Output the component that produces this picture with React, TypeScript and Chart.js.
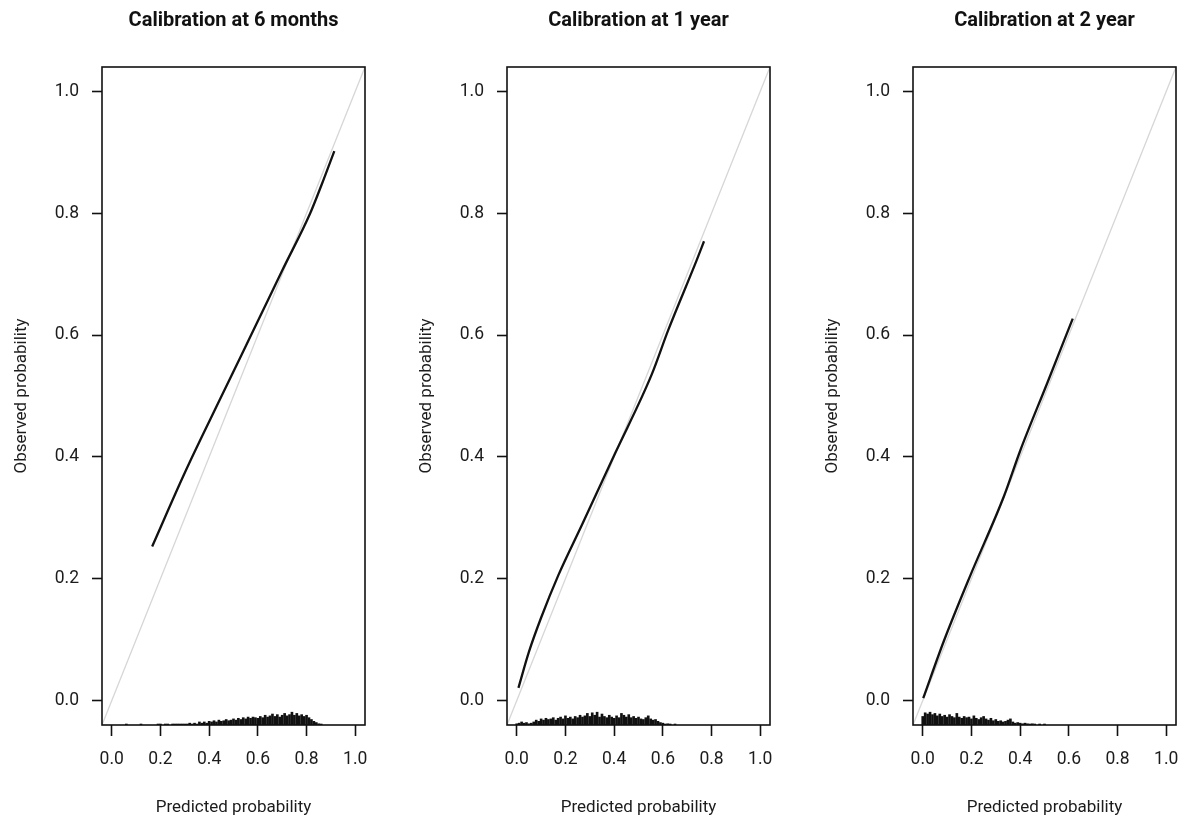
import React, { useEffect, useRef } from "react";
import { Chart, registerables } from "chart.js";

Chart.register(...registerables);
Chart.defaults.font.family = "Roboto";

// ---------- data ----------
const panelTitles = ["Calibration at 6 months", "Calibration at 1 year", "Calibration at 2 year"];
const xAxisTitle = "Predicted probability";
const yAxisTitle = "Observed probability";
const axisTicks = [0, 0.2, 0.4, 0.6, 0.8, 1.0];
const axisMin = -0.04;
const axisMax = 1.04;
const idealLine = [-0.04, 1.04];

// calibration curves
const cal6mX = [0.166, 0.3, 0.45, 0.6, 0.7, 0.815, 0.863, 0.914];
const cal6mY = [0.253, 0.374, 0.499, 0.623, 0.706, 0.8, 0.848, 0.902];
const cal1yX = [0.007, 0.05, 0.1, 0.171, 0.267, 0.404, 0.554, 0.622, 0.739, 0.769];
const cal1yY = [0.021, 0.08, 0.136, 0.206, 0.288, 0.406, 0.535, 0.608, 0.723, 0.754];
const cal2yX = [0.002, 0.086, 0.196, 0.333, 0.401, 0.511, 0.616];
const cal2yY = [0.004, 0.097, 0.206, 0.335, 0.411, 0.521, 0.627];

// distribution of predicted risks (rug heights, in y units)
const rug6mX = [0.06, 0.12, 0.19, 0.2, 0.22, 0.23, 0.25, 0.26, 0.27, 0.28, 0.29, 0.3, 0.31,
  0.32, 0.33, 0.34, 0.35, 0.36, 0.37, 0.38, 0.39, 0.4, 0.41, 0.42, 0.43, 0.44, 0.45, 0.46, 0.47,
  0.48, 0.49, 0.5, 0.51, 0.52, 0.53, 0.54, 0.55, 0.56, 0.57, 0.58, 0.59, 0.6, 0.61, 0.62, 0.63,
  0.64, 0.65, 0.66, 0.67, 0.68, 0.69, 0.7, 0.71, 0.72, 0.73, 0.74, 0.75, 0.76, 0.77, 0.78, 0.79,
  0.8, 0.81, 0.82, 0.83, 0.84, 0.85, 0.86];
const rug6mH = [0.0016, 0.0016, 0.0016, 0.0016, 0.0016, 0.0016, 0.0016, 0.0016, 0.0016, 0.0016, 0.0016, 0.0016, 0.0016,
  0.003, 0.0016, 0.003, 0.0016, 0.005, 0.003, 0.005, 0.003, 0.006, 0.005, 0.007, 0.005, 0.008, 0.006, 0.007, 0.009,
  0.007, 0.008, 0.01, 0.008, 0.011, 0.009, 0.012, 0.01, 0.013, 0.011, 0.013, 0.012, 0.011, 0.014, 0.012, 0.016,
  0.013, 0.015, 0.018, 0.014, 0.017, 0.013, 0.016, 0.019, 0.015, 0.017, 0.021, 0.016, 0.019, 0.015, 0.017, 0.014,
  0.016, 0.012, 0.009, 0.006, 0.004, 0.002, 0.0016];

const rug1yX = [0.0, 0.01, 0.02, 0.03, 0.04, 0.05, 0.06, 0.07, 0.08, 0.09, 0.1, 0.11, 0.12, 0.13, 0.14,
  0.15, 0.16, 0.17, 0.18, 0.19, 0.2, 0.21, 0.22, 0.23, 0.24, 0.25, 0.26, 0.27, 0.28, 0.29, 0.3, 0.31,
  0.32, 0.33, 0.34, 0.35, 0.36, 0.37, 0.38, 0.39, 0.4, 0.41, 0.42, 0.43, 0.44, 0.45, 0.46, 0.47, 0.48,
  0.49, 0.5, 0.51, 0.52, 0.53, 0.54, 0.55, 0.56, 0.57, 0.58, 0.59, 0.6, 0.61, 0.62, 0.63, 0.65];
const rug1yH = [0.002, 0.003, 0.005, 0.003, 0.004, 0.002, 0.003, 0.005, 0.008, 0.006, 0.01, 0.008, 0.011, 0.009, 0.01,
  0.012, 0.008, 0.011, 0.013, 0.01, 0.015, 0.011, 0.013, 0.01, 0.014, 0.012, 0.016, 0.013, 0.015, 0.019, 0.014, 0.02,
  0.016, 0.021, 0.013, 0.018, 0.014, 0.012, 0.016, 0.013, 0.011, 0.015, 0.012, 0.019, 0.016, 0.013, 0.017, 0.012, 0.014,
  0.011, 0.013, 0.01, 0.009, 0.012, 0.015, 0.01, 0.008, 0.009, 0.006, 0.004, 0.003, 0.0016, 0.002, 0.0016, 0.0016];

const rug2yX = [0.0, 0.01, 0.02, 0.03, 0.04, 0.05, 0.06, 0.07, 0.08, 0.09, 0.1, 0.11, 0.12, 0.13, 0.14,
  0.15, 0.16, 0.17, 0.18, 0.19, 0.2, 0.21, 0.22, 0.23, 0.24, 0.25, 0.26, 0.27, 0.28, 0.29, 0.3, 0.31,
  0.32, 0.33, 0.34, 0.35, 0.36, 0.37, 0.38, 0.39, 0.4, 0.41, 0.42, 0.43, 0.44, 0.45, 0.46, 0.48, 0.5];
const rug2yH = [0.014, 0.02, 0.018, 0.021, 0.017, 0.019, 0.015, 0.018, 0.014, 0.016, 0.013, 0.017, 0.014, 0.012, 0.019,
  0.013, 0.011, 0.014, 0.012, 0.013, 0.01, 0.015, 0.011, 0.009, 0.012, 0.014, 0.01, 0.008, 0.011, 0.007, 0.009, 0.006,
  0.007, 0.005, 0.006, 0.008, 0.01, 0.005, 0.003, 0.004, 0.003, 0.002, 0.003, 0.002, 0.0016, 0.002, 0.0016, 0.0016, 0.0016];

const panels = [
  { title: panelTitles[0], curveX: cal6mX, curveY: cal6mY, rugX: rug6mX, rugH: rug6mH },
  { title: panelTitles[1], curveX: cal1yX, curveY: cal1yY, rugX: rug1yX, rugH: rug1yH },
  { title: panelTitles[2], curveX: cal2yX, curveY: cal2yY, rugX: rug2yX, rugH: rug2yH },
];

// ---------- layout ----------
const PANEL_LEFTS = [0, 405, 811];
const CANVAS_W = 369;
const CANVAS_H = 818;
const TEXT = "#1c1c1c";

const boxPlugin = {
  id: "boxFrame",
  afterDatasetsDraw(chart: any) {
    const { ctx, chartArea } = chart;
    ctx.save();
    ctx.strokeStyle = "#111";
    ctx.lineWidth = 1.6;
    ctx.strokeRect(chartArea.left, chartArea.top, chartArea.right - chartArea.left, chartArea.bottom - chartArea.top);
    ctx.restore();
  },
};

function Panel(props: any) {
  const { left, title, curveX, curveY, rugX, rugH } = props;
  const ref = useRef<HTMLCanvasElement>(null);

  useEffect(() => {
    const curve = curveX.map((x: number, i: number) => ({ x, y: curveY[i] }));
    const rug = rugX.map((x: number, i: number) => ({ x, y: [axisMin, axisMin + rugH[i]] }));
    const ideal = idealLine.map((v) => ({ x: v, y: v }));

    const tickSetter = (s: any) => {
      s.ticks = axisTicks.map((v) => ({ value: v }));
    };

    const chart = new Chart(ref.current as HTMLCanvasElement, {
      type: "line",
      data: {
        datasets: [
          {
            type: "line",
            data: ideal,
            borderColor: "#d6d6d6",
            borderWidth: 1.3,
            pointRadius: 0,
            order: 3,
          } as any,
          {
            type: "bar",
            data: rug,
            backgroundColor: "#111",
            barThickness: 2,
            order: 2,
          } as any,
          {
            type: "line",
            data: curve,
            borderColor: "#111",
            borderWidth: 2.3,
            pointRadius: 0,
            cubicInterpolationMode: "monotone",
            order: 1,
          } as any,
        ],
      },
      options: {
        animation: false,
        responsive: false,
        devicePixelRatio: 1,
        events: [],
        layout: { padding: { left: 0, right: 4, top: 0, bottom: 0 } },
        plugins: {
          legend: { display: false },
          tooltip: { enabled: false },
          title: {
            display: true,
            text: title,
            fullSize: false,
            color: "#111",
            font: { family: "Roboto", size: 20, weight: "bold" },
            padding: { top: 9, bottom: 34 },
          },
        },
        scales: {
          x: {
            type: "linear",
            min: axisMin,
            max: axisMax,
            offset: false,
            afterBuildTicks: tickSetter,
            afterFit: (s: any) => {
              s.height = 93;
              s.paddingLeft = 0;
              s.paddingRight = 0;
            },
            ticks: {
              autoSkip: false,
              maxRotation: 0,
              padding: 13,
              color: TEXT,
              font: { family: "Roboto", size: 17.5 },
              callback: (v: any) => Number(v).toFixed(1),
            },
            grid: {
              offset: false,
              drawOnChartArea: false,
              drawTicks: true,
              tickLength: 11,
              tickColor: "#111",
              tickWidth: 1.6,
            },
            border: { display: false },
            title: {
              display: true,
              text: xAxisTitle,
              color: TEXT,
              font: { family: "Roboto", size: 17 },
              padding: { top: 0, bottom: 0 },
            },
          },
          y: {
            type: "linear",
            min: axisMin,
            max: axisMax,
            afterBuildTicks: tickSetter,
            afterFit: (s: any) => {
              s.width = 102;
              s.paddingTop = 0;
              s.paddingBottom = 0;
            },
            ticks: {
              autoSkip: false,
              padding: 13,
              color: TEXT,
              font: { family: "Roboto", size: 17.5 },
              callback: (v: any) => Number(v).toFixed(1),
            },
            grid: {
              drawOnChartArea: false,
              drawTicks: true,
              tickLength: 10,
              tickColor: "#111",
              tickWidth: 1.6,
            },
            border: { display: false },
            title: {
              display: true,
              text: yAxisTitle,
              color: TEXT,
              font: { family: "Roboto", size: 17 },
              padding: { top: 12, bottom: 0 },
            },
          },
        },
      } as any,
      plugins: [boxPlugin],
    });
    return () => chart.destroy();
  }, []);

  return (
    <canvas
      ref={ref}
      width={CANVAS_W}
      height={CANVAS_H}
      style={{ position: "absolute", left, top: 0, width: CANVAS_W, height: CANVAS_H }}
    />
  );
}

export default function App() {
  return (
    <div
      style={{
        position: "fixed",
        left: 0,
        top: 0,
        width: 1180,
        height: 818,
        overflow: "hidden",
        background: "#fff",
      }}
    >
      {panels.map((p, i) => (
        <Panel key={i} left={PANEL_LEFTS[i]} {...p} />
      ))}
    </div>
  );
}
